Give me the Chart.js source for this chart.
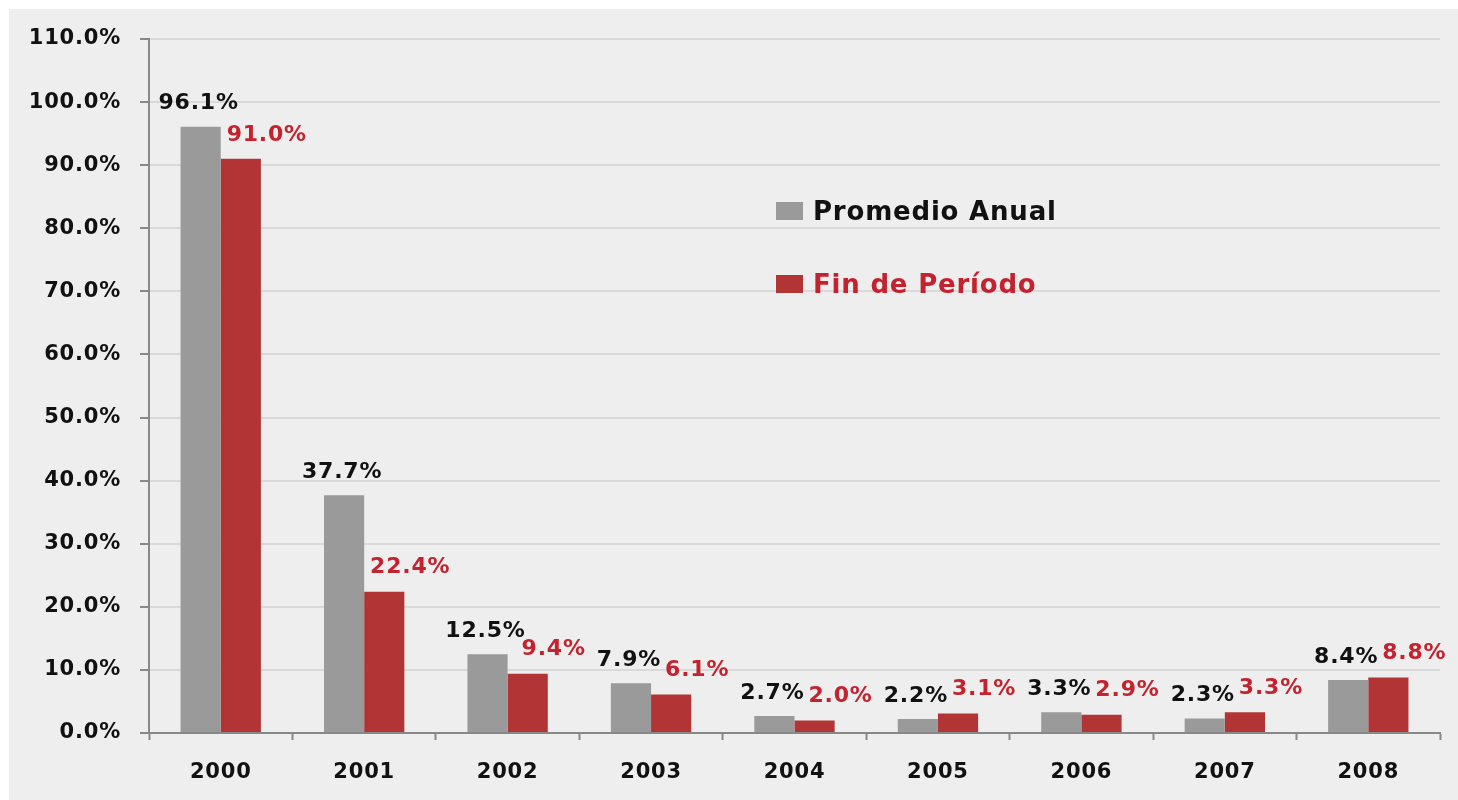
<!DOCTYPE html>
<html>
<head>
<meta charset="utf-8">
<script src="https://cdn.jsdelivr.net/npm/chart.js@4"></script>
<style>
  html, body { margin: 0; padding: 0; background: #ffffff; }
  canvas { display: block; }
</style>
</head>
<body>
<canvas id="inflChart" width="1458" height="800"></canvas>
<script>
// datos
const years = ["2000", "2001", "2002", "2003", "2004", "2005", "2006", "2007", "2008"];
const promedioAnual = [96.1, 37.7, 12.5, 7.9, 2.7, 2.2, 3.3, 2.3, 8.4];
const finDePeriodo = [91.0, 22.4, 9.4, 6.1, 2.0, 3.1, 2.9, 3.3, 8.8];
const seriesNames = ["Promedio Anual", "Fin de Período"];
const yMin = 0;
const yMax = 110;
const yStep = 10;

const GRAY = "#9a9a9a";
const RED = "#b23434";
const RED_TEXT = "#c4222e";
const DARK = "#111111";
const FONT = "'DejaVu Sans', Verdana, sans-serif";

const fmt = (v) => v.toFixed(1) + "%";

// fondo gris del panel
const panelBg = {
    id: "panelBg",
    beforeDraw(chart) {
        const ctx = chart.ctx;
        ctx.save();
        ctx.fillStyle = "#eeeeee";
        ctx.fillRect(9, 9, chart.width - 9, chart.height - 9);
        ctx.restore();
        ctx.letterSpacing = "0.8px";
    },
};

// etiquetas de valor encima de las barras
const valueLabels = {
    id: "valueLabels",
    afterDatasetsDraw(chart) {
        const ctx = chart.ctx;
        ctx.save();
        ctx.font = "bold 22px " + FONT;
        ctx.textAlign = "center";
        ctx.textBaseline = "middle";
        chart.data.datasets.forEach((ds, i) => {
            const meta = chart.getDatasetMeta(i);
            meta.data.forEach((bar, j) => {
                const v = ds.data[j];
                if (i === 0) {
                    ctx.fillStyle = DARK;
                    ctx.fillText(fmt(v), bar.x - 2, bar.y - 23);
                } else {
                    ctx.fillStyle = RED_TEXT;
                    ctx.fillText(fmt(v), bar.x + 26, bar.y - 24);
                }
            });
        });
        ctx.restore();
    },
};

// leyenda dentro del area del grafico
const innerLegend = {
    id: "innerLegend",
    afterDraw(chart) {
        const ctx = chart.ctx;
        const x = 776;
        const rows = [202, 275];
        ctx.save();
        ctx.font = "bold 26px " + FONT;
        ctx.textAlign = "left";
        ctx.textBaseline = "alphabetic";
        chart.data.datasets.forEach((ds, i) => {
            const y = rows[i];
            ctx.fillStyle = ds.backgroundColor;
            ctx.fillRect(x, y, 27, 18);
            ctx.fillStyle = i === 0 ? DARK : RED_TEXT;
            ctx.fillText(ds.label, x + 37, y + 18);
        });
        ctx.restore();
    },
};

new Chart(document.getElementById("inflChart"), {

    type: "bar",

    data: {
        labels: years,
        datasets: [
            {
                label: seriesNames[0],
                data: promedioAnual,
                backgroundColor: GRAY,
                barPercentage: 1,
                categoryPercentage: 0.56,
            },
            {
                label: seriesNames[1],
                data: finDePeriodo,
                backgroundColor: RED,
                barPercentage: 1,
                categoryPercentage: 0.56,
            },
        ],
    },

    options: {
        responsive: false,
        animation: false,
        layout: {
            padding: { left: 0, top: 39, right: 18, bottom: 0 },
        },
        plugins: {
            legend: { display: false },
            tooltip: { enabled: false },
        },
        scales: {
            x: {
                afterFit(scale) { scale.height = 67; },
                grid: {
                    drawOnChartArea: false,
                    drawTicks: true,
                    tickLength: 7,
                    tickColor: "#888888",
                    tickWidth: 2,
                },
                border: { color: "#888888", width: 2 },
                ticks: {
                    color: DARK,
                    padding: 20,
                    font: { family: FONT, size: 21, weight: "bold" },
                },
            },
            y: {
                min: yMin,
                max: yMax,
                afterFit(scale) { scale.width = 149; },
                grid: {
                    color: "#d9d9d9",
                    lineWidth: 2,
                    tickLength: 9,
                    tickColor: "#888888",
                    tickWidth: 2,
                },
                border: { color: "#888888", width: 2 },
                ticks: {
                    stepSize: yStep,
                    color: DARK,
                    padding: 19,
                    font: { family: FONT, size: 21, weight: "bold" },
                    callback: (v) => fmt(v),
                },
            },
        },
    },

    plugins: [panelBg, valueLabels, innerLegend],

});
</script>
</body>
</html>
